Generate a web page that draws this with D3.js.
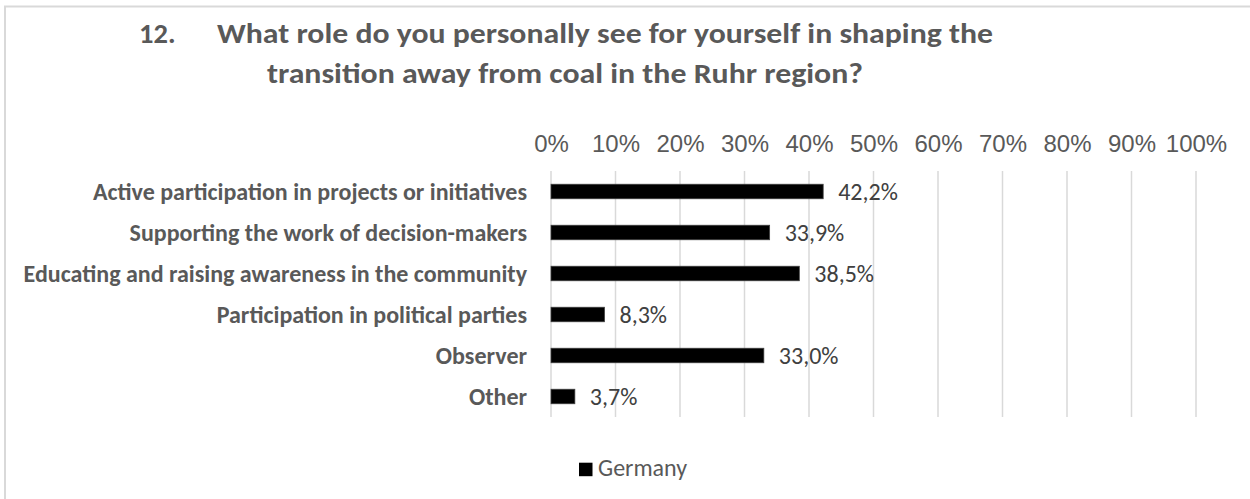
<!DOCTYPE html>
<html>
<head>
<meta charset="utf-8">
<script src="https://cdn.jsdelivr.net/npm/d3@7"></script>
<style>
  html, body { margin: 0; padding: 0; background: #ffffff; }
  svg { display: block; font-family: Carlito, Calibri, Lato, "Open Sans", sans-serif; }
</style>
</head>
<body>
<svg id="chart" width="1250" height="499"></svg>
<script>
// Survey question 12 – share of respondents per role
const categories = [
  "Active participation in projects or initiatives",
  "Supporting the work of decision-makers",
  "Educating and raising awareness in the community",
  "Participation in political parties",
  "Observer",
  "Other"
];
const germanyValues = [42.2, 33.9, 38.5, 8.3, 33.0, 3.7];
const tickValues = [0, 10, 20, 30, 40, 50, 60, 70, 80, 90, 100];
const seriesName = "Germany";
const titleNumber = "12.";
const titleLines = [
  "What role do you personally see for yourself in shaping the",
  "transition away from coal in the Ruhr region?"
];

const svg = d3.select("#chart");
const grey = "#595959";
const textSize = 24;

// outer chart frame
svg.append("rect")
  .attr("x", 5).attr("y", 6.5)
  .attr("width", 1270).attr("height", 520)
  .attr("fill", "none")
  .attr("stroke", "#d9d9d9")
  .attr("stroke-width", 2);

// title
const title = svg.append("g")
  .attr("fill", grey)
  .attr("font-weight", "bold")
  .attr("font-size", 28.5);
title.append("text").attr("x", 139).attr("y", 43).text(titleNumber);
title.append("text").attr("x", 217).attr("y", 43)
  .attr("textLength", 776).attr("lengthAdjust", "spacingAndGlyphs")
  .text(titleLines[0]);
title.append("text").attr("x", 267).attr("y", 83)
  .attr("textLength", 596).attr("lengthAdjust", "spacingAndGlyphs")
  .text(titleLines[1]);

// scales
const x = d3.scaleLinear().domain([0, 100]).range([551, 1196]);
const y = d3.scaleBand()
  .domain(categories)
  .range([171, 417])
  .paddingInner(0.645)
  .paddingOuter(0.3225);

// vertical gridlines
svg.append("g")
  .selectAll("line")
  .data(tickValues)
  .join("line")
  .attr("x1", d => x(d)).attr("x2", d => x(d))
  .attr("y1", 171).attr("y2", 417)
  .attr("stroke", "#d9d9d9")
  .attr("stroke-width", 1.5);

// top axis labels
const xAxis = d3.axisTop(x)
  .tickValues(tickValues)
  .tickFormat(d => d + "%")
  .tickSize(0)
  .tickPadding(0);
const axisG = svg.append("g")
  .attr("transform", "translate(0,152)")
  .call(xAxis);
axisG.select(".domain").remove();
axisG.selectAll("text")
  .attr("fill", grey)
  .attr("font-size", textSize)
  .attr("font-family", null)
  .attr("dy", 0);

// category labels
svg.append("g")
  .selectAll("text")
  .data(categories)
  .join("text")
  .attr("x", 527)
  .attr("y", d => y(d) + y.bandwidth() / 2)
  .attr("dy", "0.35em")
  .attr("text-anchor", "end")
  .attr("fill", grey)
  .attr("font-weight", "bold")
  .attr("font-size", textSize)
  .text(d => d);

// bars
const rows = categories.map((c, i) => ({ cat: c, value: germanyValues[i] }));
svg.append("g")
  .selectAll("rect")
  .data(rows)
  .join("rect")
  .attr("x", x(0))
  .attr("y", d => y(d.cat))
  .attr("width", d => x(d.value) - x(0))
  .attr("height", y.bandwidth())
  .attr("fill", "#000000")
  .attr("stroke", "#404040")
  .attr("stroke-width", 0.75);

// value labels
const fmt = v => v.toFixed(1).replace(".", ",") + "%";
svg.append("g")
  .selectAll("text")
  .data(rows)
  .join("text")
  .attr("x", d => x(d.value) + 15)
  .attr("y", d => y(d.cat) + y.bandwidth() / 2)
  .attr("dy", "0.35em")
  .attr("fill", "#404040")
  .attr("font-size", textSize)
  .text(d => fmt(d.value));

// legend
const legend = svg.append("g");
legend.append("rect")
  .attr("x", 579).attr("y", 462.7)
  .attr("width", 13.5).attr("height", 13.5)
  .attr("fill", "#000000");
legend.append("text")
  .attr("x", 598).attr("y", 476)
  .attr("fill", grey)
  .attr("font-size", textSize)
  .text(seriesName);
</script>
</body>
</html>
